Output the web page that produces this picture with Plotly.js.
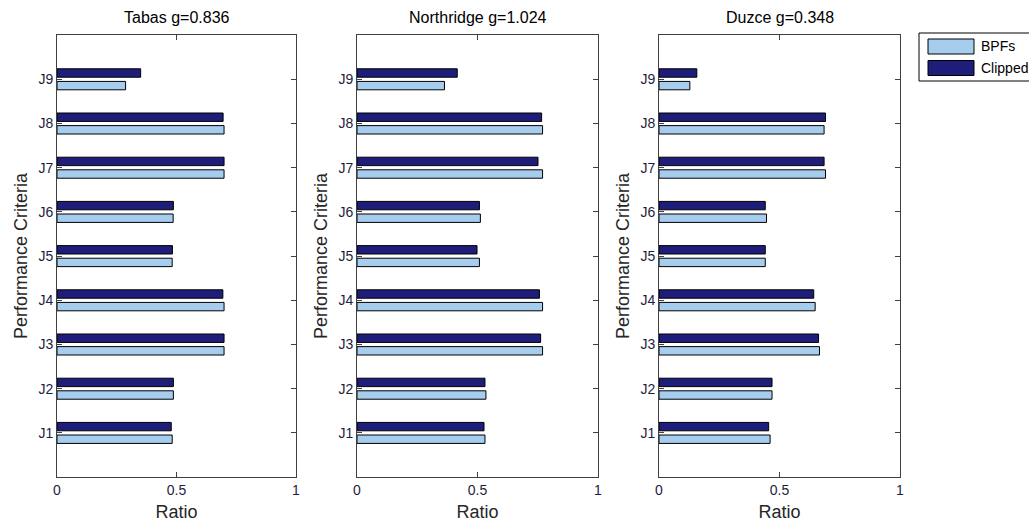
<!DOCTYPE html>
<html>
<head>
<meta charset="utf-8">
<script src="https://cdn.plot.ly/plotly-3.0.1.min.js"></script>
<style>html,body{margin:0;padding:0;background:#fff}#chart{width:1029px;height:522px}</style>
</head>
<body>
<div id="chart"></div>
<script>
const criteria = ["J1","J2","J3","J4","J5","J6","J7","J8","J9"];
const criteriaPos = [1,2,3,4,5,6,7,8,9];
const subplotTitles = ["Tabas g=0.836", "Northridge g=1.024", "Duzce g=0.348"];
const seriesNames = ["BPFs", "Clipped"];

const tabasBPF     = [0.482, 0.487, 0.699, 0.699, 0.482, 0.486, 0.699, 0.699, 0.287];
const tabasClipped = [0.478, 0.487, 0.699, 0.694, 0.483, 0.487, 0.699, 0.695, 0.350];

const northBPF     = [0.531, 0.535, 0.770, 0.770, 0.508, 0.512, 0.770, 0.770, 0.363];
const northClipped = [0.527, 0.531, 0.762, 0.757, 0.498, 0.508, 0.751, 0.766, 0.416];

const duzceBPF     = [0.461, 0.469, 0.666, 0.648, 0.441, 0.446, 0.691, 0.685, 0.128];
const duzceClipped = [0.455, 0.469, 0.662, 0.642, 0.441, 0.441, 0.685, 0.691, 0.157];

const xTicks = [0, 0.5, 1];
const xTickText = ["0", "0.5", "1"];

const colBPF = "rgb(166,204,238)";
const colClip = "rgb(30,30,122)";
const txtCol = "#1e1e3c";

const groups = [[tabasBPF, tabasClipped], [northBPF, northClipped], [duzceBPF, duzceClipped]];
const traces = [];
groups.forEach((g, i) => {
  const sfx = i === 0 ? "" : String(i + 1);
  traces.push({
    type: "bar", orientation: "h", name: seriesNames[0], x: g[0], y: criteriaPos,
    xaxis: "x" + sfx, yaxis: "y" + sfx, width: 0.19, offset: -0.24,
    marker: {color: colBPF, line: {color: "#000", width: 1}},
    showlegend: false, hoverinfo: "x+name"
  });
  traces.push({
    type: "bar", orientation: "h", name: seriesNames[1], x: g[1], y: criteriaPos,
    xaxis: "x" + sfx, yaxis: "y" + sfx, width: 0.19, offset: 0.045,
    marker: {color: colClip, line: {color: "#000", width: 1}},
    showlegend: false, hoverinfo: "x+name"
  });
});

const W = 1029, H = 522;
const xDomPx = [[57, 296], [357, 598], [659, 900]];
const yDom = [(H - 477) / H, (H - 35) / H];
const px = v => v / W;
const py = v => (H - v) / H;

const layout = {
  width: W, height: H,
  margin: {l: 0, r: 0, t: 0, b: 0},
  paper_bgcolor: "#fff", plot_bgcolor: "#fff",
  barmode: "overlay",
  font: {family: "Liberation Sans, Arial, sans-serif", size: 14, color: txtCol},
  showlegend: false,
  annotations: [],
  shapes: []
};

xDomPx.forEach((d, i) => {
  const sfx = i === 0 ? "" : String(i + 1);
  layout["xaxis" + sfx] = {
    domain: [d[0] / W, d[1] / W], anchor: "y" + sfx, range: [0, 1],
    tickvals: xTicks, ticktext: xTickText, ticks: "inside", ticklen: 5,
    tickcolor: "#404040", showline: true, linecolor: "#404040", linewidth: 1,
    mirror: "allticks", showgrid: false, zeroline: false, fixedrange: true,
    tickfont: {size: 14, color: txtCol},
    title: {text: "Ratio", font: {size: 18, color: "#262626"}, standoff: 8}
  };
  layout["yaxis" + sfx] = {
    domain: yDom, anchor: "x" + sfx, range: [0, 10],
    tickvals: criteriaPos, ticktext: criteria, ticks: "inside", ticklen: 5,
    tickcolor: "#404040", showline: true, linecolor: "#404040", linewidth: 1,
    mirror: "allticks", showgrid: false, zeroline: false, fixedrange: true,
    tickfont: {size: 14, color: txtCol},
    title: {text: "Performance Criteria", font: {size: 18, color: "#262626"}, standoff: 6}
  };
  layout.annotations.push({
    text: subplotTitles[i], xref: "paper", yref: "paper",
    x: (d[0] + d[1]) / 2 / W, y: py(17), xanchor: "center", yanchor: "middle",
    showarrow: false, font: {size: 16, color: "#000"}
  });
});

// legend box (drawn to mimic the original wide swatches)
layout.shapes.push({type: "rect", xref: "paper", yref: "paper",
  x0: px(919), x1: px(1040), y0: py(33), y1: py(81),
  line: {color: "#000", width: 1}, fillcolor: "#fff", layer: "above"});
const legColors = [colBPF, colClip];
const legY = [46.5, 68];
seriesNames.forEach((n, k) => {
  layout.shapes.push({type: "rect", xref: "paper", yref: "paper",
    x0: px(928), x1: px(974), y0: py(legY[k] - 7.5), y1: py(legY[k] + 7.5),
    line: {color: "#000", width: 1}, fillcolor: legColors[k], layer: "above"});
  layout.annotations.push({text: n, xref: "paper", yref: "paper",
    x: px(979), y: py(legY[k]), xanchor: "left", yanchor: "middle",
    showarrow: false, font: {size: 14, color: "#000"}});
});

Plotly.newPlot("chart", traces, layout, {displayModeBar: false, staticPlot: true});
</script>
</body>
</html>
